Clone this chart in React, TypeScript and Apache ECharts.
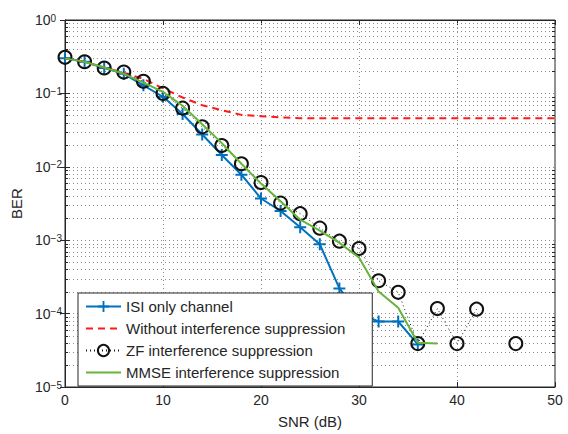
import React, { useEffect, useRef } from "react";
import * as echarts from "echarts";

// SNR sweep in dB
const snr = [0, 2, 4, 6, 8, 10, 12, 14, 16, 18, 20, 22, 24, 26, 28, 30, 32, 34, 36, 38, 40, 42, 44, 46, 48, 50];

// BER curves (null = no errors counted, not drawn on the log axis)
const isiOnly = [0.302, 0.27, 0.222, 0.185, 0.129, 0.09, 0.0525, 0.0275, 0.0145, 0.0078, 0.0037, 0.0025, 0.0015, 0.00088, 0.00022, 0.0001, 0.000078, 0.000078, 0.000038, null, null, null, null, null, null, null];
const noSuppression = [0.3, 0.27, 0.225, 0.19, 0.158, 0.117, 0.088, 0.069, 0.059, 0.051, 0.049, 0.047, 0.046, 0.046, 0.046, 0.046, 0.046, 0.046, 0.046, 0.046, 0.046, 0.046, 0.046, 0.046, 0.046, 0.046];
const zfSuppression = [0.31, 0.27, 0.222, 0.195, 0.146, 0.1, 0.063, 0.035, 0.0195, 0.011, 0.0061, 0.0032, 0.0023, 0.00146, 0.00097, 0.00077, 0.00028, 0.000195, 0.000039, 0.000117, 0.000039, 0.000115, null, 0.000039, null, null];
const mmseSuppression = [0.3, 0.27, 0.225, 0.185, 0.14, 0.105, 0.068, 0.038, 0.021, 0.011, 0.0059, 0.0034, 0.0019, 0.00135, 0.00092, 0.00058, 0.0002, 0.00012, 0.00004, 0.000039, null, null, null, null, null, null];

const seriesNames = [
  "ISI only channel",
  "Without interference suppression",
  "ZF interference suppression",
  "MMSE interference suppression",
];

// minor log grid values 2..9 x 10^k
const minorGrid: number[] = [];
for (let k = -5; k < 0; k++) {
  for (let m = 2; m <= 9; m++) minorGrid.push(m * Math.pow(10, k));
}

const FONT = "'Liberation Sans', Arial, Helvetica, sans-serif";
const INK = "#262626";
const GRID = "#8c8c8c";
const BLUE = "#0072BD";
const RED = "#ff1a1a";
const GREEN = "#66b53a";
const PLUS = "path://M5,0h2v5h5v2h-5v5h-2v-5h-5v-2h5z";

const toPairs = (arr: (number | null)[]) => snr.map((x, i) => [x, arr[i] == null ? "-" : arr[i]]);

// legend entries for the plain lines carry no marker
const noMarker = { color: "transparent", borderColor: "transparent", borderWidth: 0 };

export default function App() {
  const ref = useRef<HTMLDivElement>(null);

  useEffect(() => {
    if (!ref.current) return;
    const chart = echarts.init(ref.current, undefined, { renderer: "svg" });

    const dotted = { color: GRID, width: 1, type: [1, 3] as any };

    chart.setOption({
      animation: false,
      backgroundColor: "#fff",
      textStyle: { fontFamily: FONT },
      grid: {
        left: 65,
        right: 13,
        top: 20,
        bottom: 39,
        show: true,
        borderColor: INK,
        borderWidth: 1,
        backgroundColor: "transparent",
      },
      legend: {
        z: 20,
        data: [
          { name: seriesNames[0] },
          { name: seriesNames[1], itemStyle: noMarker },
          { name: seriesNames[2] },
          { name: seriesNames[3], itemStyle: noMarker },
        ],
        orient: "vertical",
        left: 78,
        top: 293,
        itemWidth: 35,
        itemHeight: 14,
        itemGap: 7,
        padding: [6, 27, 6, 7],
        backgroundColor: "#fff",
        borderColor: INK,
        borderWidth: 1,
        borderRadius: 0,
        selectedMode: false,
        textStyle: { fontSize: 15, lineHeight: 14, color: INK, fontFamily: FONT },
      },
      xAxis: [
        {
          type: "value",
          min: 0,
          max: 50,
          interval: 10,
          name: "SNR (dB)",
          nameLocation: "middle",
          nameGap: 27,
          nameTextStyle: { fontSize: 15, color: INK, fontFamily: FONT },
          axisLine: { show: true, lineStyle: { color: INK, width: 1 } },
          axisTick: { show: true, inside: true, length: 5, lineStyle: { color: INK } },
          axisLabel: { fontSize: 14, color: INK, margin: 6, fontFamily: FONT },
          splitLine: { show: true, lineStyle: dotted },
        },
        {
          type: "value",
          position: "top",
          min: 0,
          max: 50,
          interval: 10,
          axisLine: { show: true, lineStyle: { color: INK, width: 1 } },
          axisTick: { show: true, inside: true, length: 5, lineStyle: { color: INK } },
          axisLabel: { show: false },
          splitLine: { show: false },
        },
      ],
      yAxis: [
        {
          type: "log",
          logBase: 10,
          min: 1e-5,
          max: 1,
          name: "BER",
          nameLocation: "middle",
          nameGap: 38,
          nameTextStyle: { fontSize: 15, color: INK, fontFamily: FONT },
          axisLine: { show: true, lineStyle: { color: INK, width: 1 } },
          axisTick: { show: true, inside: true, length: 5, lineStyle: { color: INK } },
          axisLabel: {
            margin: 30,
            align: "left",
            color: INK,
            fontFamily: FONT,
            formatter: (v: number) => {
              const e = Math.round(Math.log10(v));
              const s = e < 0 ? "\u2212" + -e : String(e);
              return "{b|10}{s|" + s + "}";
            },
            rich: {
              b: { fontSize: 14, lineHeight: 14, verticalAlign: "bottom", color: INK, fontFamily: FONT },
              s: { fontSize: 10, lineHeight: 10, verticalAlign: "top", padding: [0, 0, 8, 0], color: INK, fontFamily: FONT },
            },
          },
          splitLine: { show: true, lineStyle: dotted },
        },
        {
          type: "log",
          logBase: 10,
          min: 1e-5,
          max: 1,
          position: "right",
          axisLine: { show: true, lineStyle: { color: INK, width: 1 } },
          axisTick: { show: true, inside: true, length: 5, lineStyle: { color: INK } },
          axisLabel: { show: false },
          splitLine: { show: false },
        },
      ],
      series: [
        {
          type: "custom",
          name: "minor-grid",
          silent: true,
          z: 1,
          xAxisIndex: 0,
          yAxisIndex: 0,
          data: minorGrid.map((v) => [0, v]),
          encode: { x: 0, y: 1 },
          renderItem: (params: any, api: any) => {
            const cs = params.coordSys;
            const y = Math.round(api.coord([0, api.value(1)])[1]) + 0.5;
            const x0 = cs.x;
            const x1 = cs.x + cs.width;
            return {
              type: "group",
              children: [
                { type: "line", shape: { x1: x0, y1: y, x2: x1, y2: y }, style: { stroke: GRID, lineWidth: 1, lineDash: [1, 3] } },
                { type: "line", shape: { x1: x0, y1: y, x2: x0 + 3, y2: y }, style: { stroke: INK, lineWidth: 1 } },
                { type: "line", shape: { x1: x1 - 3, y1: y, x2: x1, y2: y }, style: { stroke: INK, lineWidth: 1 } },
              ],
            };
          },
        },
        {
          type: "line",
          name: seriesNames[0],
          data: toPairs(isiOnly),
          connectNulls: false,
          symbol: PLUS,
          symbolSize: 12,
          showAllSymbol: true,
          lineStyle: { color: BLUE, width: 2 },
          itemStyle: { color: BLUE, borderWidth: 0 },
          z: 2,
        },
        {
          type: "line",
          name: seriesNames[1],
          data: toPairs(noSuppression),
          symbol: "none",
          lineStyle: { color: RED, width: 2, type: [7, 5] as any },
          itemStyle: { color: RED },
          z: 3,
        },
        {
          type: "line",
          name: seriesNames[2],
          data: toPairs(zfSuppression),
          connectNulls: false,
          symbol: "circle",
          symbolSize: 13,
          showAllSymbol: true,
          lineStyle: { color: "#1a1a1a", width: 1, type: [1, 3] as any },
          itemStyle: { color: "transparent", borderColor: "#111", borderWidth: 2 },
          z: 4,
        },
        {
          type: "line",
          name: seriesNames[3],
          data: toPairs(mmseSuppression),
          connectNulls: false,
          symbol: "none",
          lineStyle: { color: GREEN, width: 2 },
          itemStyle: { color: GREEN },
          z: 5,
        },
      ],
    });

    return () => chart.dispose();
  }, []);

  return <div ref={ref} style={{ position: "fixed", left: 0, top: 0, width: 568, height: 434 }} />;
}
